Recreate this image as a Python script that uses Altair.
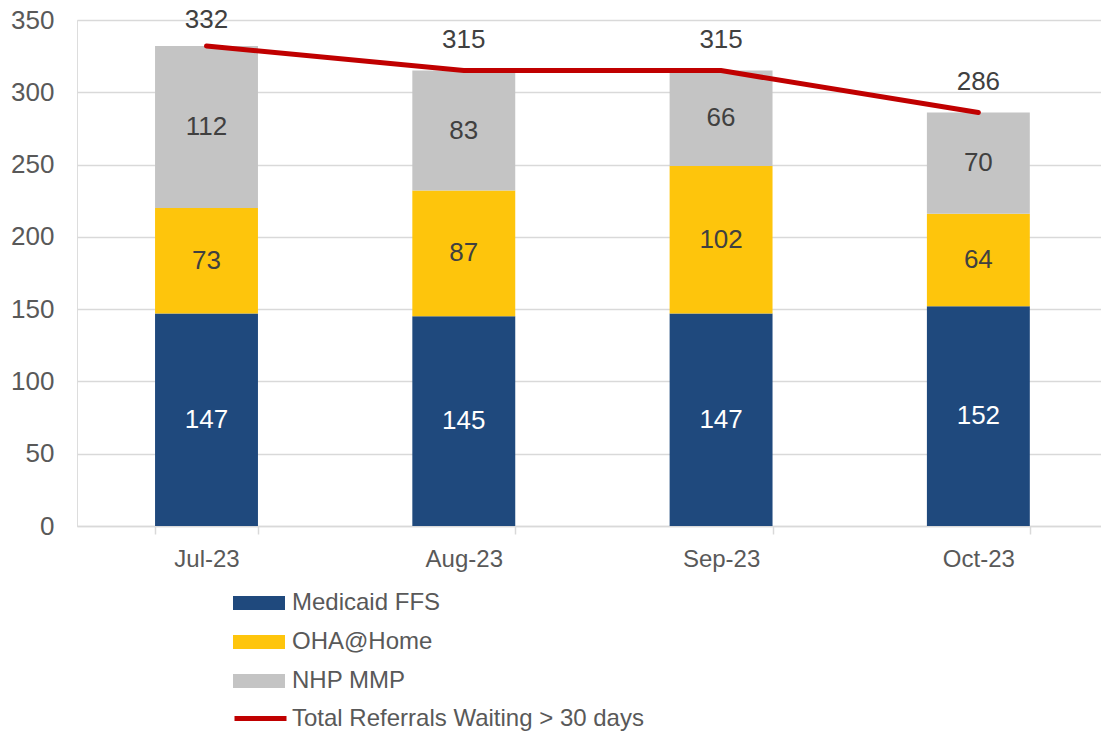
import altair as alt
import pandas as pd

months = ["Jul-23", "Aug-23", "Sep-23", "Oct-23"]
series = ["Medicaid FFS", "OHA@Home", "NHP MMP"]
medicaid = [147, 145, 147, 152]
oha = [73, 87, 102, 64]
nhp = [112, 83, 66, 70]
totals = [332, 315, 315, 286]
line_name = "Total Referrals Waiting > 30 days"
colors = ["#1F497D", "#FEC50C", "#C4C4C4"]
label_colors = ["#FFFFFF", "#404040", "#404040"]

rows = []
for i, m in enumerate(months):
    base = 0
    for j, (s, vals) in enumerate(zip(series, [medicaid, oha, nhp])):
        v = vals[i]
        rows.append({"month": m, "series": s, "value": v, "order": j,
                     "mid": base + v / 2, "lab": str(v)})
        base += v
bars_df = pd.DataFrame(rows)
tot_df = pd.DataFrame({"month": months, "total": totals, "series": [line_name] * 4})

FONT = "Liberation Sans"
xscale = alt.Scale(paddingInner=0.6, paddingOuter=0.29, align=0.523)
xenc = alt.X("month:N", sort=months, title=None, scale=xscale,
             axis=alt.Axis(labelAngle=0, labelFontSize=24, labelColor="#595959",
                           labelFont=FONT, domainColor="#D9D9D9", domainWidth=1.5,
                           tickColor="#D9D9D9", tickWidth=1.5, tickSize=8,
                           tickBand="extent", labelPadding=13, grid=False))

bars = alt.Chart(bars_df).mark_bar().encode(
    x=xenc,
    y=alt.Y("value:Q", stack="zero", title=None,
            scale=alt.Scale(domain=[0, 350], nice=False),
            axis=alt.Axis(values=list(range(0, 351, 50)), labelFontSize=26,
                          labelColor="#595959", labelFont=FONT, domain=False,
                          ticks=False, tickSize=0, labelPadding=23,
                          gridColor="#D9D9D9", gridWidth=1.5)),
    fill=alt.Fill("series:N", sort=series,
                  scale=alt.Scale(domain=series, range=colors),
                  legend=alt.Legend(title=None, orient="none", legendX=169, legendY=570,
                                    symbolType="M-2,-0.54L2,-0.54L2,0.54L-2,0.54Z",
                                    symbolSize=676, symbolStrokeWidth=0, symbolOpacity=1,
                                    labelFontSize=24, labelColor="#595959", labelFont=FONT,
                                    labelOffset=20, rowPadding=14, padding=0,
                                    labelLimit=600)),
    order=alt.Order("order:Q"),
)

seg_text = alt.Chart(bars_df).mark_text(fontSize=26, font=FONT, baseline="middle").encode(
    x=alt.X("month:N", sort=months, scale=xscale),
    y=alt.Y("mid:Q"),
    text="lab:N",
    color=alt.Color("series:N", scale=alt.Scale(domain=series, range=label_colors),
                    legend=None),
)

line = alt.Chart(tot_df).mark_line(strokeWidth=5, strokeCap="round").encode(
    x=alt.X("month:N", sort=months, scale=xscale),
    y=alt.Y("total:Q"),
    stroke=alt.Stroke("series:N", scale=alt.Scale(domain=[line_name], range=["#C00000"]),
                      legend=alt.Legend(title=None, orient="none", legendX=168, legendY=683,
                                        symbolType="M-2,0L2,0", symbolSize=676,
                                        symbolStrokeWidth=5, labelFontSize=24,
                                        labelColor="#595959", labelFont=FONT,
                                        labelOffset=16, padding=0, labelLimit=600)),
)

tot_base = alt.Chart(tot_df).encode(
    x=alt.X("month:N", sort=months, scale=xscale),
    y=alt.Y("total:Q"),
    text="total:Q",
)
tot_text_first = tot_base.mark_text(fontSize=26, font=FONT, color="#404040",
                                    baseline="middle", dy=-26).transform_filter(
    alt.datum.month == months[0])
tot_text_rest = tot_base.mark_text(fontSize=26, font=FONT, color="#404040",
                                   baseline="middle", dy=-31).transform_filter(
    alt.datum.month != months[0])

chart = alt.layer(bars, seg_text, line, tot_text_first, tot_text_rest).resolve_scale(
    color="independent").properties(
    width=1024, height=506,
    autosize=alt.AutoSizeParams(type="none"),
    padding={"left": 69, "top": 12, "right": 0, "bottom": 206},
).configure_view(stroke=None).configure(background="white")

chart.save("out.html", embed_options={"renderer": "svg", "actions": False})
